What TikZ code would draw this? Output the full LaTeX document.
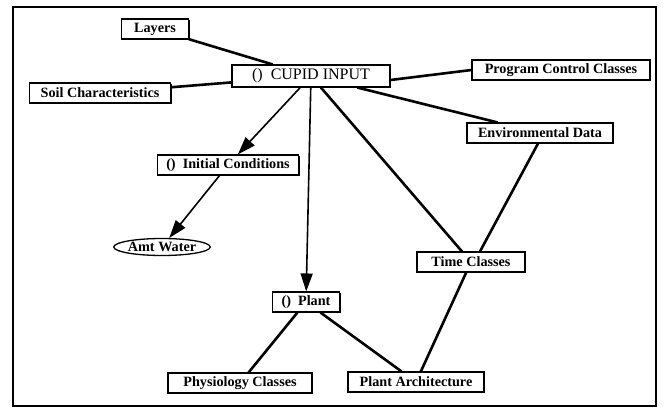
\documentclass[tikz,border=0pt]{standalone}
\usepackage{fontspec}
\setmainfont{Liberation Serif}
\usetikzlibrary{arrows.meta,shapes.geometric,shadows}
\begin{document}
\begin{tikzpicture}[x=1pt,y=-1pt,
  box/.style={draw,line width=1.1pt,fill=white,inner sep=0pt,
    minimum height=20pt,font=\fontsize{14.2}{16}\selectfont\bfseries,
    general shadow={fill=black,shadow xshift=1.2pt,shadow yshift=-1.2pt}},
  oval/.style={ellipse,draw,line width=1.3pt,fill=white,inner sep=0pt,
    minimum height=17pt,font=\fontsize{14.2}{16}\selectfont\bfseries},
  link/.style={line width=2.6pt},
  arrowlink/.style={line width=1.6pt,-{Triangle[length=18pt,width=12pt]}}]
  \useasboundingbox (0,0) rectangle (666,409);
  % outer frame
  \draw[line width=1.1pt] (13,7) rectangle (656,406);

  % nodes
  \node[box,minimum width=158pt,minimum height=22pt,
        font=\fontsize{16}{18}\selectfont] (cupid) at (311,76) {()\enspace CUPID INPUT};
  \node[box,minimum width=67pt] (layers) at (155,29) {Layers};
  \node[box,minimum width=141pt] (soil) at (100,93) {Soil Characteristics};
  \node[box,minimum width=178pt] (prog) at (561,70) {Program Control Classes};
  \node[box,minimum width=146pt] (env) at (540,133) {Environmental Data};
  \node[box,minimum width=141pt] (init) at (228,165) {()\enspace Initial Conditions};
  \node[oval,minimum width=90pt] (water) at (162,247) {Amt Water};
  \node[box,minimum width=67pt] (plant) at (306,302) {()\enspace Plant};
  \node[box,minimum width=108pt] (time) at (471,262) {Time Classes};
  \node[box,minimum width=144pt] (physio) at (240,383) {Physiology Classes};
  \node[box,minimum width=136pt] (arch) at (416,382) {Plant Architecture};

  % connectors
  \draw[link] (layers) -- (cupid);
  \draw[link] (soil) -- (cupid);
  \draw[link] ([yshift=-4pt]cupid.east) -- (prog.west);
  \draw[link] (cupid) -- (env);
  \draw[link] (cupid) -- (time);
  \draw[link] ([xshift=-2pt]env.south) -- ([xshift=9pt]time.north);
  \draw[link] (time) -- (arch);
  \draw[link] (plant) -- (arch);
  \draw[link] (plant) -- (physio);
  \draw[arrowlink] (cupid) -- (init);
  \draw[arrowlink] (init) -- (water);
  \draw[arrowlink] (cupid) -- (plant);
\end{tikzpicture}
\end{document}
